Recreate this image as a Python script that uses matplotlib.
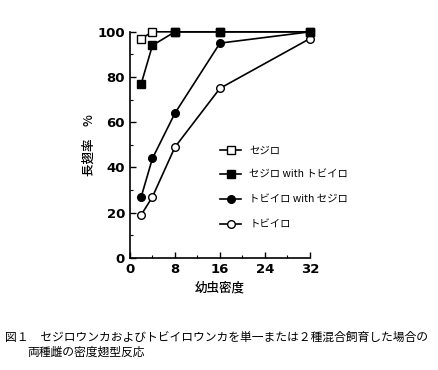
import matplotlib
matplotlib.use("Agg")
import matplotlib.pyplot as plt
from matplotlib.ticker import MultipleLocator

plt.rcParams['font.family'] = ['Noto Sans CJK JP', 'DejaVu Sans']

# 幼虫密度
density = [2, 4, 8, 16, 32]
# 長翅率 (%)
sejiro = [97, 100, 100, 100, 100]
sejiro_with_tobiiro = [77, 94, 100, 100, 100]
tobiiro_with_sejiro = [27, 44, 64, 95, 100]
tobiiro = [19, 27, 49, 75, 97]

labels = ["セジロ", "セジロ with トビイロ", "トビイロ with セジロ", "トビイロ"]
x_ticks = [0, 8, 16, 24, 32]
y_ticks = [0, 20, 40, 60, 80, 100]


def main():
    fig = plt.figure(figsize=(4.39, 3.70), dpi=100)
    ax = fig.add_axes([0.296, 0.303, 0.41, 0.611])

    kw = dict(color="black", linewidth=1.2, markersize=5.5, markeredgewidth=1.0,
              markeredgecolor="black", clip_on=False)
    ax.plot(density, tobiiro, marker="o", markerfacecolor="white", label=labels[3], zorder=3, **kw)
    ax.plot(density, tobiiro_with_sejiro, marker="o", markerfacecolor="black", label=labels[2], zorder=4, **kw)
    ax.plot(density, sejiro, marker="s", markerfacecolor="white", label=labels[0], zorder=5, **kw)
    ax.plot(density, sejiro_with_tobiiro, marker="s", markerfacecolor="black", label=labels[1], zorder=6, **kw)

    ax.set_xlim(0, 32)
    ax.set_ylim(0, 100)
    ax.set_xticks(x_ticks)
    ax.set_yticks(y_ticks)
    ax.xaxis.set_minor_locator(MultipleLocator(4))
    ax.yaxis.set_minor_locator(MultipleLocator(10))
    ax.tick_params(direction="in", length=4, width=1, labelsize=9.5)
    ax.tick_params(which="minor", direction="in", length=2.5, width=0.8)
    for lab in ax.get_xticklabels() + ax.get_yticklabels():
        lab.set_fontweight("bold")
        lab.set_family(["DejaVu Sans"])
    ax.spines["top"].set_visible(False)
    ax.spines["right"].set_visible(False)
    ax.spines["left"].set_linewidth(1.2)
    ax.spines["bottom"].set_linewidth(1.2)

    ax.set_xlabel("幼虫密度", fontsize=9, labelpad=4, fontweight="medium")
    ax.set_ylabel("長翅率　%", fontsize=9, labelpad=1, fontweight="medium")

    handles, labs = ax.get_legend_handles_labels()
    order = [2, 3, 1, 0]
    ax.legend([handles[i] for i in order], [labs[i] for i in order],
              loc="upper left", bbox_to_anchor=(0.45, 0.54), frameon=False,
              fontsize=7.5, handlelength=2.0, labelspacing=1.42, handletextpad=0.8)

    fig.text(0.012, 0.087, "図１　セジロウンカおよびトビイロウンカを単一または２種混合飼育した場合の",
             fontsize=8.5, va="center")
    fig.text(0.062, 0.047, "両種雌の密度翅型反応", fontsize=8.5, va="center")

    fig.savefig("out.png", dpi=100)


if __name__ == "__main__":
    main()
